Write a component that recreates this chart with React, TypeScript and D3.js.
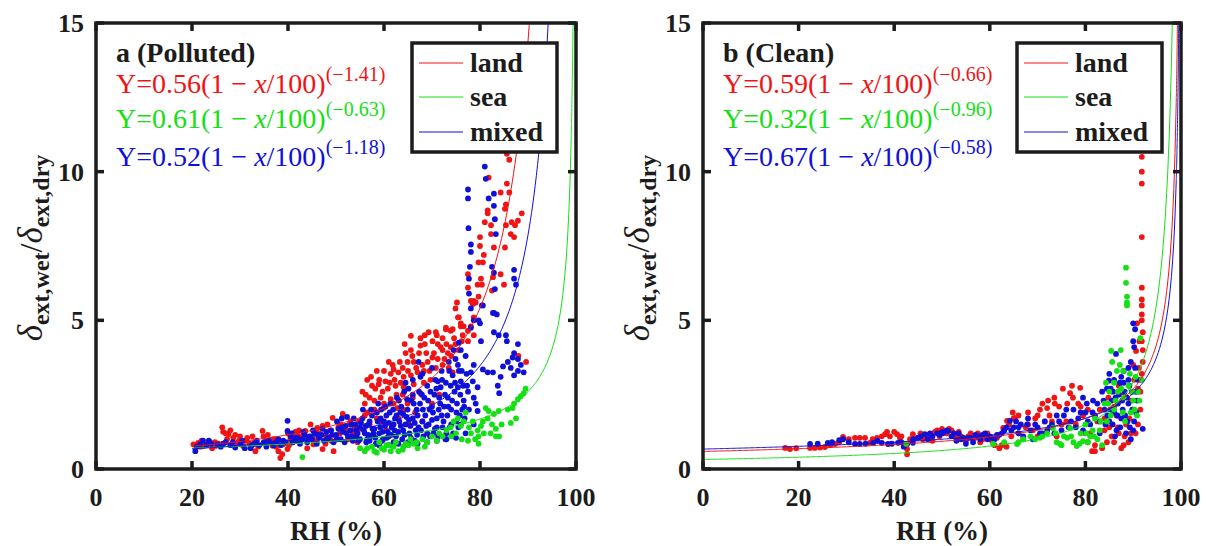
import * as d3 from "d3";

// RH (%) vs extinction enhancement ratio, two panels
const rhTicks = [0, 20, 40, 60, 80, 100];
const ratioTicks = [0, 5, 10, 15];
const seriesNames = ["land", "sea", "mixed"];
const seriesColors = ["#f01414", "#14e014", "#1010d8"];
const panelTitles = ["a (Polluted)", "b (Clean)"];

// fitted Y = a(1 - x/100)^b, order: land, sea, mixed
const fitCoefA = [0.56, 0.61, 0.52];
const fitExpA = [-1.41, -0.63, -1.18];
const fitCoefB = [0.59, 0.32, 0.67];
const fitExpB = [-0.66, -0.96, -0.58];
const fitStart = [20, 0];

// panel a (polluted) points [RH, ratio]
const landA = [
  [20.3,0.83],[21.3,0.88],[22,0.95],[22.5,0.78],[23.2,0.83],[24.2,0.7],[24.8,0.9],[25.5,0.85],[26.3,1.4],[26.5,1.25],
  [27,1.2],[27.6,1.17],[28,1.3],[28.6,1.05],[29,1.15],[29.4,0.88],[30,1.1],[30.7,0.77],[31.2,0.95],[32,0.85],
  [32.6,1.1],[33.2,0.6],[33.8,0.75],[34.7,1.28],[34.9,1.1],[35.5,0.95],[36.3,0.88],[37,1.0],[37.5,0.75],[38,0.6],
  [38.4,0.37],[38.8,0.5],[39,0.83],[39.9,0.67],[40,1.2],[40.5,1.0],[41,0.9],[41.5,1.25],[42,1.15],[42.5,0.95],
  [43,1.1],[43.6,1.28],[44,0.7],[44.7,1.5],[45,1.1],[45.3,0.83],[46,0.95],[46.1,1.38],[46.5,1.2],[47.2,1.45],
  [47.2,0.67],[48,1.1],[48.2,1.5],[48.8,1.3],[49.3,1.72],[49.5,0.6],[50,1.1],[50.5,1.4],[50.8,1.2],[51.4,1.85],
  [52,1.3],[52.5,1.0],[52.8,1.5],[53,1.6],[53.5,1.2],[54,1.45],[54.5,0.9],[54.8,1.6],[55,1.35],
  [21.8,0.75],[23.8,0.9],[25,0.78],[27.3,1.0],[29.8,0.95],[31.5,1.05],[33,0.9],[35.8,1.15],[36.8,0.78],[37.8,0.95],
  [40.2,0.8],[42.3,1.3],[44.3,1.05],[45.8,1.3],[47.8,0.85],[49,0.95],[51,1.5],[53.8,1.35],
  [55.5,2.6],[56,2.2],[56,1.8],[56.5,3.0],[57,2.4],[57,1.5],[57.5,2.8],[58,2.0],[58.2,2.7],[58.5,3.3],
  [58.9,2.85],[59.3,2.4],[59.5,1.6],[59.9,2.05],[60.3,2.95],[60.5,1.3],[60.8,2.7],[61,3.6],[61.4,3.2],[61.4,2.35],
  [61.8,3.5],[62,3.35],[62.4,2.8],[62.8,2.05],[63,3.25],[63,1.7],[63.5,2.9],[63.9,3.4],[63.9,2.5],[64.1,3.1],
  [64.1,2.75],[64.5,3.9],[64.9,3.6],[64.9,2.2],[65.2,1.5],[65.6,4.48],[65.6,4.0],[65.6,3.15],[66,2.4],[66.2,3.6],
  [66.2,2.85],[66.5,1.9],[67,3.25],[67.6,4.4],[67.6,4.15],[67.6,2.55],[68,1.6],[68.3,3.3],[68.3,2.9],[68.5,4.5],
  [68.5,4.2],[69.1,3.6],[69.3,4.6],[69.7,3.0],[70,2.2],[70.1,4.3],[70.1,3.75],[70.8,4.6],[70.8,3.4],[71.2,4.2],
  [71.2,3.7],[71.5,2.5],[72.2,4.4],[72.2,4.0],[72.2,3.5],
  [56.2,2.5],[57.3,3.1],[58,2.3],[59,3.0],[59.7,2.6],[60,3.3],[61.2,2.9],[62.2,3.0],[62.6,2.5],[63.3,3.6],
  [64.3,4.2],[65,3.3],[65.9,3.8],[66.7,3.4],[67.3,3.9],[68,3.5],[68.8,3.9],[69.5,3.3],[70.4,3.9],[71,4.5],
  [71.8,4.1],[72.6,3.7],[73,4.2],[74,3.8],[74.6,4.4],[75.5,4.0],[76.2,4.3],[56.5,1.9],[58.5,1.7],[60,2.2],
  [62,2.2],[64,2.0],
  [72.9,4.7],[72.9,4.75],[73.3,3.9],[73.5,3.4],[73.9,4.65],
  [73.9,4.1],[74.3,3.25],[74.3,4.7],[74.9,5.4],[74.9,4.2],[75.2,5.6],[75.4,5.1],[75.6,5.1],[76,4.8],[76,4.9],
  [76.4,4.5],[76.6,4.8],[77.5,4.65],[77.5,4.3],[77.5,6.55],[77.5,6.1],[78.1,4.8],[78.1,5.65],[78.5,5.55],[78.7,4.5],
  [78.7,5.65],[78.7,5.1],[79.1,5.6],[79.5,6.2],[79.7,5.8],[79.7,6.95],[80,7.5],[80,7.8],[80.2,6.4],[80.4,6.2],
  [80.6,6.95],[80.8,7.2],[81,8.3],[81.6,8.7],[81.6,8.6],[81.8,9.8],[82.3,8.2],[82.3,7.9],[82.5,6.0],[82.7,6.45],
  [82.9,7.45],[84.3,9.3],[84.3,6.55],[85,6.2],[85.2,8.75],[85.2,7.45],[85.4,8.9],[85.4,8.2],[85.6,10.6],[85.6,9.6],
  [86.1,10.4],[86.1,9.3],[86.4,7.9],[86.6,8.3],[87.1,7.8],[87.3,8.2],[87.9,8.35],[88.7,8.6],[89.6,3.6],[88,3.8]
];
const seaA = [
  [43,0.4],[55,0.7],[56,0.6],[57.5,0.75],[58.5,0.55],[59,0.9],[60,0.65],[60.5,0.8],[61.4,0.6],[62,0.75],
  [62.5,0.9],[63.9,0.65],[64.5,0.85],[65.1,0.8],[65.5,1.0],[66.2,0.85],[67,0.7],[68,1.0],[69,0.9],[70,1.1],
  [71,0.95],[72.2,1.1],[73,1.3],[73.9,1.4],[74.5,1.6],[75,1.2],[75.4,1.7],[76,1.45],[76.6,1.6],[77,1.9],
  [77.5,0.95],[77.7,1.4],[78.1,1.2],[79,1.0],[79.5,1.3],[79.7,1.1],[79.7,0.85],[80.2,1.45],[80.6,1.6],[81.2,2.05],
  [81.6,1.7],[81.8,1.95],[82.2,1.2],[82.9,1.85],[83.3,1.35],[83.3,1.1],[83.9,1.95],[84.5,1.5],[85.8,2.0],[86.4,1.55],
  [86.8,2.05],[87.1,2.2],[87.5,1.7],[87.9,2.35],[88.5,2.45],[89.1,2.55],[89.5,2.7],
  [56.5,0.7],[58,0.6],[59.5,0.7],[61,0.8],[63,0.6],[64,0.75],[66.8,0.9],[68.5,0.75],[71.5,1.2],[74,1.1],
  [76.2,1.0],[78.5,1.6],[80.8,1.2],[82.5,1.5],[84,1.1]
];
const mixedA = [
  [20.7,0.6],[21,0.75],[21.7,0.83],[22.3,0.95],[23,0.8],[24,0.85],[25.3,0.83],[26,0.75],[27,0.9],[28,0.8],
  [29,0.72],[30.1,0.83],[31,0.7],[32.2,0.7],[33,0.85],[34,0.8],[34.9,0.88],[35.5,0.75],[36,0.95],[36.8,0.85],
  [37.5,0.9],[38,1.0],[38.5,0.8],[39,0.95],[39.9,1.62],[39.9,1.28],[40.5,1.1],[41,0.9],[41.5,1.05],[42,1.05],
  [42.5,0.85],[43,1.0],[43.5,1.15],[44,0.9],[44.5,1.1],[45,1.0],[45.5,1.2],[46,0.85],[46.5,1.05],[47,1.15],
  [47.5,0.95],[48,1.25],[48.5,1.05],[49,1.3],[49.5,0.9],[50,1.15],[50.5,1.35],[51,1.0],[51.5,1.25],[52,1.45],
  [52.5,1.1],[53,1.3],[53.5,0.95],[54,1.5],[54.5,1.2],[55,1.4],[55,1.0],
  [23.5,0.95],[26.5,0.85],[28.5,0.9],[30.5,0.95],[32.5,0.8],[33.5,0.95],[35,0.9],[37,0.8],[39.5,0.9],[40.8,1.2],
  [41.8,0.95],[43.2,1.25],[44.2,1.0],[45.2,1.3],[46.2,1.15],[47.2,1.35],[48.2,1.0],[49.2,1.15],[50.2,1.0],[51.2,1.4],
  [52.2,1.2],[53.2,1.5],[54.2,1.1],
  [55.5,1.7],[56,1.2],[56.3,0.9],[56.8,1.5],[57.2,1.1],[57.5,1.8],[58,1.35],[58.3,0.85],[58.7,1.6],[59,1.2],
  [59.4,2.0],[59.8,1.0],[60.2,1.45],[60.5,1.8],[61,1.1],[61.3,2.2],[61.6,1.4],[62,0.9],[62.3,1.7],[62.7,2.4],
  [63,1.25],[63.4,1.9],[63.8,1.0],[64.2,2.6],[64.5,1.5],[64.9,2.0],[65.1,2.7],[65.3,1.2],[65.7,2.3],[66,1.7],
  [66.4,0.95],[66.8,2.0],[67.2,3.6],[67.2,1.4],[67.6,3.1],[67.9,2.5],[68.2,1.1],[68.6,1.8],[69,2.8],[69.3,1.5],
  [69.7,2.6],[70,2.1],[70.3,1.2],[70.7,3.0],[71,1.7],[71.2,2.95],[71.5,2.4],[71.8,2.75],[72.2,1.4],[72.5,2.1],
  [72.9,2.9],[73.2,1.8],[73.6,3.3],[73.9,2.8],[74.2,2.3],[74.3,3.15],[74.5,4.0],[74.9,3.7],[75,1.6],[75.4,3.5],
  [75.4,2.75],[75.6,3.3],[75.6,4.25],[76,2.95],[76,4.0],[76.3,2.0],[76.6,2.3],[77,3.8],[77.5,2.6],[77.7,2.0],
  [77,1.2],[76,1.5],[55.8,1.3],[56.5,1.0],[57,1.6],[57.8,1.2],[58.5,1.9],[59.2,1.4],[59.6,0.95],[60,1.6],
  [60.8,1.25],[61.2,1.9],[62,1.5],[62.5,1.1],[63.2,1.6],[63.6,2.1],[64,1.3],[64.7,1.75],[65.5,1.45],[66.2,2.2],
  [66.6,1.3],[67,1.8],[67.5,2.2],[68,1.6],[68.4,2.4],[69,1.2],[69.5,2.0],[70,1.65],[70.5,2.5],[71,1.4],
  [71.4,2.0],[72,1.8],[72.7,2.5],[73,1.2],[73.4,2.1],[74,1.5],[74.7,2.6],[75.2,2.2],[75.8,1.8],[76.5,2.8],
  [77.2,3.2],[76.8,1.7],
  [50.2,1.6],[51.2,1.7],[51.8,0.9],[52.3,1.75],[53.2,1.1],[53.7,1.7],[54.2,1.3],[54.7,0.95],[55.2,1.55],[55.6,2.0],
  [56.2,1.45],[56.7,1.15],[57.3,2.0],[57.6,1.35],[58.2,1.05],[58.8,2.2],[59.3,1.7],[59.7,1.25],[60.3,2.1],[60.6,1.05],
  [61,1.55],[61.5,1.15],[61.9,2.0],[62.2,1.3],[62.6,1.8],[63.1,2.3],[63.5,1.45],[64,1.85],[64.3,1.15],[64.8,2.35],
  [65.2,1.65],[65.6,1.05],[66,2.5],[66.4,1.55],[66.9,1.15],[67.3,2.6],[67.7,1.3],[68.1,2.0],[68.8,1.45],[69.2,2.3],
  [69.6,1.1],[70.2,1.9],[70.6,1.35],[70.9,2.7],[71.3,1.1],[71.7,2.2],[72.1,3.0],[72.4,1.6],[72.8,1.0],[73.3,2.4],
  [73.7,1.4],[74,2.0],[74.4,1.2],[74.8,2.9],[75.1,1.9],[75.5,1.4],[75.9,2.5],[76.2,3.3],[76.7,2.1],[77.3,2.8],
  [57,0.95],[59,0.8],[61,0.8],[63,0.85],[65,0.9],[67,0.85],[69,0.9],[71,0.95],[73,1.0],[75,1.05],
  [68,3.2],[70,3.4],[72,3.3],[73.5,3.6],[66,3.0],[64.5,2.9],
  [77.5,9.4],[77.5,9.1],[77.6,8.1],[77.7,6.4],[77.7,5.9],[77.9,6.8],[78.1,7.55],[78.1,7.3],[78.1,5.4],[78.1,4.75],
  [78.1,3.25],[78.5,2.95],[78.7,5.0],[78.7,3.5],[78.7,2.4],[78.7,1.5],[79.1,2.2],[79.5,1.95],[79.5,2.75],[79.7,5.0],
  [80,4.9],[80.2,4.3],[80.4,5.5],[80.6,5.5],[80.6,3.35],[81,10.17],[81.2,9.76],[81.6,3.25],[81.8,9.1],[82.5,6.8],
  [82.7,5.25],[82.7,3.25],[82.9,9.26],[82.9,8.85],[82.9,6.6],[82.9,5.25],[82.9,4.6],[83.1,8.4],[83.1,6.05],[83.3,7.9],
  [83.5,5.2],[83.7,2.8],[83.9,4.5],[84,2.55],[84.3,3.1],[84.8,3.45],[85.4,4.5],[85.6,4.3],[85.8,3.6],[86.4,3.4],
  [86.8,3.75],[87.1,6.7],[87.1,6.4],[87.1,3.9],[87.1,3.15],[87.5,6.2],[87.9,4.2],[87.9,3.7],[87.9,3.3],[88.5,3.5],
  [89.1,3.25]
];

// panel b (clean) points [RH, ratio]
const landB = [
  [17.2,0.71],[18.2,0.67],[22.4,0.71],[23.4,0.71],[24.5,0.72],[25.5,0.74],[26.6,0.8],[27.6,0.84],[29.3,1.08],[31.8,1.05],
  [32.8,1.05],[33.9,1.05],[34.9,0.88],[36.4,1.05],[37.4,1.1],[38.1,1.17],[39.1,1.1],[40,1.25],[40.6,1.17],[41.2,1.05],
  [42.7,0.5],[42.7,0.67],[43.9,1.17],[44.8,1.05],[45.5,1.2],[46,1.0],[47,1.15],[48,0.95],[49,1.3],[49.5,1.1],
  [50,1.35],[51,1.2],[52,1.3],[53,1.05],[53.5,1.25],[54,1.1],[55,0.95],[56,1.2],[57,1.05],[57.5,1.2],
  [58,0.9],[59,1.1],[60,1.0],[61,0.8],[61.5,1.05],[62,0.7],[62.8,1.38],[63,1.3],[63.6,1.62],[64,1.5],
  [64.5,1.1],[65,1.7],[65.3,1.72],[66,1.2],[66,1.8],[67,1.0],[68,1.5],[68,1.9],[69,1.3],[70,1.8],
  [70,1.1],[71,2.2],[71.5,1.6],[72,2.05],[72.2,2.3],[73,1.6],[73.6,2.2],[74,1.1],[75.3,2.7],[76,1.6],
  [76.2,2.2],[77.2,2.8],[77.4,2.4],[78,1.5],[78.9,2.73],[79,2.1],[79.5,1.8],[80,1.2],[80.5,0.9],[81.4,0.6],
  [82,0.8],[82.5,1.6],[83,2.0],[84,1.3],[84.5,0.9],[84.8,2.4],[85,1.4],[85.5,1.1],[86,2.1],[86.5,1.8],
  [87,1.2],[87,2.8],[87.5,0.7],[88,2.5],[88.2,1.1],[88.5,1.5],[89,0.9],[89.2,1.7],[89.5,2.3],[90,3.5],
  [90.2,3.0],[90.5,1.2],[90.6,3.97],[90.8,4.9],[91,2.7],[91,1.5],[91.2,3.4],[91.5,2.0],[91.5,2.6],[91.8,3.2],
  [91.8,4.3],[91.8,5.0],[91.8,5.2],[91.8,5.5],[91.8,5.7],[91.8,6.1],[91.8,7.8],[91.8,9.6],[91.8,10.0],[91.8,10.5],
  [92,3.6],[92,4.0],[92,4.6],
  [19.5,0.7],[28.5,0.9],[30.5,1.0],[35.5,1.0],[38.5,1.25],[41.5,1.1],[43.3,1.0],[46.5,1.1],[48.5,1.25],[51.5,1.35],
  [55.5,1.1],[58.5,1.0],[59.5,1.2],[60.5,0.95],[62.5,0.8],[63.5,0.75],[64.8,1.9],[67.5,1.4],[69.5,1.7],[70.5,2.0],
  [72.5,1.8],[73.5,2.4],[74.5,2.1],[75,1.5],[76.8,2.55],[78.5,2.2],[80.5,2.0],[81,1.2],[82,0.6],[83.5,0.7],
  [84,1.7],[86,0.9],[86.8,1.4],[88,0.8],[89.5,1.2],[90,2.0],[90.8,2.6],[91.3,4.3],[91.6,3.0]
];
const seaB = [
  [42.5,0.85],[60.7,0.84],[63,0.9],[65.7,0.84],[67,1.0],[68.5,1.1],[70.5,1.05],[72,1.2],[73.2,1.38],[74,0.9],
  [74.7,0.84],[75.5,1.1],[76.2,1.05],[76.8,1.38],[77.5,0.9],[78.2,0.77],[79,1.2],[79.5,0.94],[80,1.5],[80.5,0.9],
  [81,1.1],[81.5,1.3],[82,1.7],[82.5,1.0],[83,1.3],[83.5,0.8],[84,2.2],[84.3,2.9],[84.5,1.6],[85,2.6],
  [85.3,1.8],[85.4,3.97],[85.6,3.6],[86,2.9],[86.3,2.3],[86.6,3.3],[87.2,3.5],[87.4,4.0],[87.5,2.7],[87.9,3.3],
  [88,2.4],[88.3,1.6],[88.5,6.77],[88.5,6.26],[88.7,5.8],[88.7,5.6],[88.7,5.5],[89,2.8],[89.3,3.2],[89.5,1.9],
  [90,2.3],[90.3,2.0],[90.5,3.1],[91,2.6],[91.3,2.3],[91.5,4.4],[91.8,3.0],
  [66,0.9],[69.5,1.0],[71,1.1],[73.8,1.2],[75,0.8],[77,1.1],[78.8,0.85],[80.2,1.2],[81.8,1.1],[83.2,1.6],
  [84.8,2.2],[86,2.0],[86.8,2.6],[87.8,1.9],[89.8,2.6],[90.8,1.8]
];
const mixedB = [
  [22.4,0.84],[26.1,0.88],[28.5,0.97],[29.3,1.0],[31.8,0.84],[32.8,0.84],[35.6,0.88],[37.4,0.88],[38.7,0.84],[40.8,0.88],
  [42,0.75],[42.7,0.84],[43.9,0.88],[44,1.0],[45,1.05],[46.4,1.17],[47.5,1.2],[48,1.1],[49,1.2],[50,1.25],
  [50.2,1.2],[51.3,1.28],[52,1.1],[52.5,1.2],[53,0.95],[54,1.0],[54.5,1.05],[55,0.85],[56,1.05],[56.5,0.9],
  [57,1.15],[58,1.0],[58.5,1.15],[59,1.2],[60,1.1],[60.5,1.05],[61,1.0],[62,1.15],[62.5,1.2],[63,1.3],
  [64.2,1.62],[64.5,1.3],[65,1.4],[66,1.2],[66.5,1.5],[67,1.1],[67.8,1.5],[68,1.7],[68.5,1.3],[69,1.0],
  [70,1.4],[71,1.2],[72,1.28],[73,1.5],[74,1.8],[75,1.3],[76,2.0],[77,1.6],[78,1.4],[79,1.9],
  [79.5,2.4],[80.3,2.2],[81,1.5],[81.6,2.3],[82,1.8],[83,1.2],[83.5,2.6],[84,2.0],[84.2,1.5],[84.5,2.7],
  [84.9,2.97],[85,1.6],[85,3.2],[85.2,2.0],[85.5,2.3],[85.8,2.6],[86,1.9],[86,3.0],[86.2,1.1],[86.4,3.87],
  [86.5,1.3],[86.8,2.2],[87,2.5],[87.3,1.4],[87.5,1.7],[87.8,2.0],[88,2.9],[88,3.3],[88.2,2.6],[88.5,1.2],
  [88.8,1.6],[89,2.2],[89,3.0],[89.2,2.8],[89.5,3.6],[89.5,1.0],[89.8,2.0],[90,4.9],[90,4.3],[90.2,4.1],
  [90.2,1.6],[90.4,4.7],[90.4,3.4],[90.5,2.6],[90.8,2.3],[91,3.0],[92,1.35],
  [24,0.85],[27,0.9],[30.5,0.9],[34,0.85],[36.5,0.95],[39.5,0.85],[41.5,0.9],[45.5,1.1],[47,1.0],[49.5,1.15],
  [51,1.3],[53.5,1.2],[55.5,1.05],[57.5,1.1],[59.5,1.0],[61.5,1.15],[63.5,1.4],[65.5,1.6],[66,1.4],[69.5,1.5],
  [70.5,1.2],[71.5,1.6],[72.5,1.4],[73.5,1.2],[74.5,1.6],[75.5,1.8],[76.5,1.4],[77.5,2.0],[78.5,1.7],[79.5,1.3],
  [80,1.9],[80.5,1.6],[81.5,1.9],[82.5,2.2],[83,1.6],[83.8,2.3],[84.6,1.8],[85.3,2.7],[85.7,1.5],[86.3,2.4],
  [86.7,1.8],[87.2,2.9],[87.7,2.3],[88.3,1.8],[88.7,2.4],[89.3,1.4],[89.7,2.6],[90,1.3],[90.6,1.9],[89,3.4],
  [87.5,3.1]
];

const W = 1206;
const H = 546;
const plotTop = 23;
const plotBottom = 469;
const panelX = [[96, 576], [703, 1181]];
const serif = "'Liberation Serif', 'Times New Roman', serif";
const ink = "#1c1c1c";

function fmtExp(v: number) {
  return "(" + (v < 0 ? "\u2212" : "") + Math.abs(v).toFixed(2) + ")";
}

function Panel({ idx, series, coefs, exps }: { idx: number; series: number[][][]; coefs: number[]; exps: number[] }) {
  const [x0, x1] = panelX[idx];
  const x = d3.scaleLinear().domain([0, 100]).range([x0, x1]);
  const y = d3.scaleLinear().domain([0, 15]).range([plotBottom, plotTop]);
  const clipId = "clip" + idx;
  const rhSamples = d3.range(fitStart[idx], 99, 0.25).concat(d3.range(99, 99.995, 0.005));
  const drawOrder = [0, 2, 1];
  const eqBase = [93, 128, 166];
  const legBase = [72, 106, 141];
  const tick = 8;
  return (
    <g>
      <defs>
        <clipPath id={clipId}>
          <rect x={x0} y={plotTop} width={x1 - x0} height={plotBottom - plotTop} />
        </clipPath>
      </defs>
      <g clipPath={`url(#${clipId})`}>
        {drawOrder.map((s) => (
          <g key={s} fill={seriesColors[s]}>
            {series[s].map((d, i) => (
              <circle key={i} cx={x(d[0])} cy={y(d[1])} r={2.9} />
            ))}
          </g>
        ))}
        {coefs.map((a, s) => {
          const pts = rhSamples
            .map((rh) => [rh, a * Math.pow(1 - rh / 100, exps[s])])
            .filter((p) => p[1] < 17);
          const path = d3.line<number[]>().x((p) => x(p[0])).y((p) => y(p[1]))(pts);
          return <path key={s} d={path || ""} fill="none" stroke={seriesColors[s]} strokeWidth={1} />;
        })}
      </g>
      {/* frame and ticks */}
      <g stroke={ink} strokeWidth={3.5}>
        <rect x={x0} y={plotTop} width={x1 - x0} height={plotBottom - plotTop} fill="none" />
        {rhTicks.map((t) => (
          <g key={t}>
            <line x1={x(t)} x2={x(t)} y1={plotBottom} y2={plotBottom - tick} />
            <line x1={x(t)} x2={x(t)} y1={plotTop} y2={plotTop + tick} />
          </g>
        ))}
        {ratioTicks.map((t) => (
          <g key={t}>
            <line x1={x0} x2={x0 + tick} y1={y(t)} y2={y(t)} />
            <line x1={x1} x2={x1 - tick} y1={y(t)} y2={y(t)} />
          </g>
        ))}
      </g>
      <g fontFamily={serif} fontWeight="bold" fontSize={26} fill={ink}>
        {rhTicks.map((t) => (
          <text key={t} x={x(t)} y={506} textAnchor="middle">{t}</text>
        ))}
        {ratioTicks.map((t) => (
          <text key={t} x={x0 - 12} y={y(t) + 9} textAnchor="end">{t}</text>
        ))}
        <text x={(x0 + x1) / 2} y={540} textAnchor="middle" fontSize={27}>RH (%)</text>
        <text x={x0 + 20} y={62} fontSize={28}>{panelTitles[idx]}</text>
      </g>
      {/* y label */}
      <text transform={`translate(${x0 - 54},${248}) rotate(-90)`} textAnchor="middle" fontFamily={serif} fill={ink}>
        <tspan fontStyle="italic" fontSize={35}>δ</tspan>
        <tspan fontWeight="bold" fontSize={24} dy={7}>ext,wet</tspan>
        <tspan fontSize={32} dy={-7}>/</tspan>
        <tspan fontStyle="italic" fontSize={35}>δ</tspan>
        <tspan fontWeight="bold" fontSize={24} dy={7}>ext,dry</tspan>
      </text>
      {/* equations */}
      <g fontFamily={serif} fontSize={28}>
        {coefs.map((a, s) => (
          <text key={s} x={x0 + 20} y={eqBase[s]} fill={seriesColors[s]}>
            {"Y=" + a.toFixed(2) + "(1 \u2212 "}
            <tspan fontStyle="italic">x</tspan>
            {"/100)"}
            <tspan fontSize={20} dy={-12}>{fmtExp(exps[s])}</tspan>
          </text>
        ))}
      </g>
      {/* legend */}
      <g>
        <rect x={x1 - 164} y={43} width={145} height={109} fill="#fff" stroke={ink} strokeWidth={3.5} />
        {seriesNames.map((n, s) => (
          <g key={n}>
            <line x1={x1 - 157} x2={x1 - 113} y1={legBase[s] - 9} y2={legBase[s] - 9} stroke={seriesColors[s]} strokeWidth={1} />
            <text x={x1 - 106} y={legBase[s]} fontFamily={serif} fontWeight="bold" fontSize={28} fill={ink}>{n}</text>
          </g>
        ))}
      </g>
    </g>
  );
}

export default function App() {
  return (
    <svg width={W} height={H} style={{ position: "absolute", left: 0, top: 0, background: "#fff" }}>
      <rect width={W} height={H} fill="#fff" />
      <Panel idx={0} series={[landA, seaA, mixedA]} coefs={fitCoefA} exps={fitExpA} />
      <Panel idx={1} series={[landB, seaB, mixedB]} coefs={fitCoefB} exps={fitExpB} />
    </svg>
  );
}
